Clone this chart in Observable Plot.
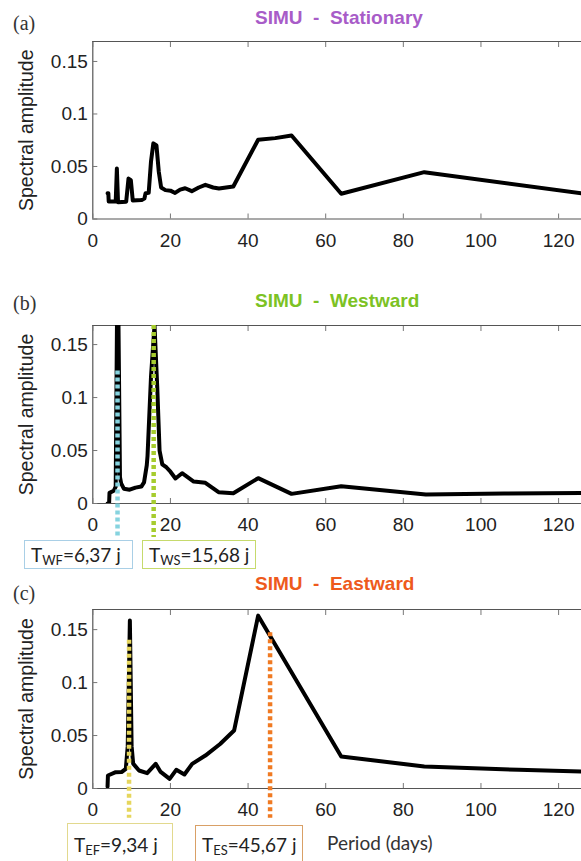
<!DOCTYPE html>
<html>
<head>
<meta charset="utf-8">
<script src="https://cdn.jsdelivr.net/npm/d3@7"></script>
<script src="https://cdn.jsdelivr.net/npm/@observablehq/plot@0.6"></script>
<style>
  body { margin: 0; background: #fff; }
  #root { position: relative; width: 581px; height: 861px; overflow: hidden; font-family: "Liberation Sans", Arial, sans-serif; }
  .abs { position: absolute; }
  .title { font-weight: bold; font-size: 19px; line-height: 1; white-space: pre; }
  .plabel { font-family: "Liberation Serif", serif; font-size: 20px; line-height: 1; color: #333; }
  .box { box-sizing: border-box; border: 1.5px solid; background: #fff; font-family: Lato, sans-serif; font-size: 19px; color: #222; padding-left: 6px; white-space: pre; }
  .box span.t { position: absolute; left: 6px; line-height: 1; }
  .box sub { font-size: 0.68em; position: relative; top: 0.25em; vertical-align: baseline; line-height: 0; }
  .xlab { font-family: Lato, sans-serif; font-size: 19px; color: #333; line-height: 1; white-space: pre; }
</style>
</head>
<body>
<div id="root"></div>
<script>
// ---------- data ----------
const xTicks = [0, 20, 40, 60, 80, 100, 120];
const yTicks = [0, 0.05, 0.1, 0.15];
const yTickLabels = ["0", "0.05", "0.1", "0.15"];

const titles = ["SIMU  -  Stationary", "SIMU  -  Westward", "SIMU  -  Eastward"];
const titleColors = ["#a85cc8", "#7cc224", "#ee5a1c"];
const panelLabels = ["(a)", "(b)", "(c)"];
const yLabel = "Spectral amplitude";
const xLabel = "Period (days)";

// (a) Stationary
const periodA = [3.8, 4.0, 4.1, 5.9, 6.2, 6.5, 8.6, 9.2, 9.8, 10.3, 12.5, 13.3, 13.6, 14.4, 15.0, 15.6, 16.4, 17.0, 17.6, 18.7, 20.0, 21.2, 22.5, 23.8, 25.5, 27.3, 29.0, 31.0, 32.5, 36.2, 42.6, 47.0, 51.2, 64.0, 85.4, 125.9];
const ampA    = [0.0246, 0.0246, 0.0167, 0.0167, 0.048, 0.016, 0.0165, 0.0385, 0.037, 0.0175, 0.018, 0.0195, 0.0246, 0.025, 0.055, 0.072, 0.070, 0.045, 0.030, 0.0275, 0.027, 0.0248, 0.028, 0.0293, 0.0265, 0.030, 0.0325, 0.030, 0.029, 0.031, 0.0754, 0.077, 0.0795, 0.024, 0.0446, 0.0245];

// (b) Westward
const periodB = [3.8, 4.2, 4.3, 5.4, 5.9, 6.4, 7.0, 7.3, 8.0, 9.5, 11.0, 12.5, 13.2, 13.9, 14.1, 15.0, 15.9, 16.6, 17.2, 17.9, 19.0, 20.0, 21.3, 23.0, 26.0, 29.0, 32.4, 36.2, 42.6, 51.2, 64.0, 85.8, 106.0, 125.9];
const ampB    = [0.0, 0.0, 0.010, 0.012, 0.016, 0.25, 0.025, 0.019, 0.014, 0.013, 0.015, 0.016, 0.020, 0.036, 0.045, 0.120, 0.168, 0.110, 0.050, 0.037, 0.034, 0.030, 0.0236, 0.0286, 0.0207, 0.0195, 0.0107, 0.0097, 0.0239, 0.0091, 0.0163, 0.0085, 0.0095, 0.0100];

// (c) Eastward
const periodC = [3.8, 3.9, 5.9, 7.4, 8.5, 9.0, 9.55, 10.0, 10.4, 11.9, 14.0, 16.2, 17.4, 19.8, 21.5, 23.6, 25.6, 29.0, 32.8, 36.4, 42.6, 64.0, 85.4, 109.7, 125.9];
const ampC    = [0.002, 0.0123, 0.0154, 0.0155, 0.0186, 0.040, 0.1585, 0.040, 0.0235, 0.017, 0.0145, 0.0233, 0.016, 0.0091, 0.0176, 0.0132, 0.0233, 0.0311, 0.042, 0.0547, 0.1632, 0.0302, 0.0208, 0.0176, 0.016];

// dominant periods (dotted markers)
const markerPeriodsB = [6.37, 15.68];
const markerTopsB    = [0.125, 0.168];
const markerColorsB  = ["#86d3df", "#a6cc2e"];
const markerPeriodsC = [9.34, 45.67];
const markerTopsC    = [0.14, 0.147];
const markerColorsC  = ["#e6d65c", "#f07a22"];

// ---------- drawing ----------
const root = document.getElementById("root");

function panel({periods, amps, yMax, height, marginTop, marginBottom, markers, markerBottom}) {
  const data = periods.map((p, i) => ({p, a: amps[i]}));
  const mk = markers ? markers.periods.map((p, i) => ({period: p, top: markers.tops[i], bottom: markerBottom, color: markers.colors[i]})) : [];
  return Plot.plot({
    width: 581,
    height,
    marginLeft: 92.3,
    marginRight: 0,
    marginTop,
    marginBottom,
    x: {domain: [0, 125.9]},
    y: {domain: [0, yMax]},
    style: {fontFamily: "'Liberation Sans', Arial, sans-serif", fontSize: "19px", color: "#222", background: "transparent", overflow: "visible"},
    marks: [
      Plot.ruleY([0, yMax], {stroke: "#555", strokeWidth: 1.2}),
      Plot.ruleX([0], {stroke: "#555", strokeWidth: 1.2}),
      Plot.axisX(xTicks, {anchor: "bottom", tickSize: -5, tickPadding: 19, label: null, stroke: "#777", fill: "#222"}),
      Plot.axisX(xTicks, {anchor: "top", tickSize: -5, tickFormat: () => "", label: null, stroke: "#777"}),
      Plot.axisY(yTicks, {anchor: "left", tickSize: -5, tickPadding: 10, label: null, stroke: "#777", fill: "#222",
        tickFormat: d => yTickLabels[yTicks.indexOf(d)]}),
      Plot.line(data, {x: "p", y: "a", stroke: "#000", strokeWidth: 4, clip: true}),
      Plot.ruleX(mk, {x: "period", y1: "top", y2: "bottom", stroke: "color", strokeWidth: 4.5, strokeDasharray: "4,3"}),
      Plot.text([yLabel], {text: d => d, frameAnchor: "left", textAnchor: "middle", dx: -66, rotate: -90, fontSize: 19.5, fill: "#222"})
    ]
  });
}

function place(el, top) {
  el.style.position = "absolute";
  el.style.left = "0px";
  el.style.top = top + "px";
  root.appendChild(el);
}

place(panel({periods: periodA, amps: ampA, yMax: 0.169, height: 262, marginTop: 41, marginBottom: 43.5}), 0);
place(panel({periods: periodB, amps: ampB, yMax: 0.168, height: 262, marginTop: 45, marginBottom: 39,
  markers: {periods: markerPeriodsB, tops: markerTopsB, colors: markerColorsB}, markerBottom: -0.032}), 280);
place(panel({periods: periodC, amps: ampC, yMax: 0.169, height: 301, marginTop: 49, marginBottom: 73,
  markers: {periods: markerPeriodsC, tops: markerTopsC, colors: markerColorsC}, markerBottom: -0.028}), 560);

function html(cls, text, style) {
  const d = document.createElement("div");
  d.className = "abs " + cls;
  d.innerHTML = text;
  Object.assign(d.style, style);
  root.appendChild(d);
  return d;
}

// titles and panel labels
const titleTops = [7.7, 290.7, 573.7];
titles.forEach((t, i) => html("title", t, {left: "255px", top: titleTops[i] + "px", color: titleColors[i]}));
const labelTops = [13, 293, 583];
panelLabels.forEach((t, i) => html("plabel", t, {left: "13px", top: labelTops[i] + "px"}));

// annotation boxes
const boxes = [
  {text: "T<sub>WF</sub>=6,37 j",  left: 24,  top: 540, width: 109, height: 29, color: "#a9cfe6", textTop: 4},
  {text: "T<sub>WS</sub>=15,68 j", left: 142, top: 540, width: 114, height: 29, color: "#c6da6c", textTop: 4},
  {text: "T<sub>EF</sub>=9,34 j",  left: 67,  top: 823, width: 106, height: 40, color: "#e2d98e", textTop: 11},
  {text: "T<sub>ES</sub>=45,67 j", left: 195, top: 825, width: 108, height: 40, color: "#d9a066", textTop: 9}
];
boxes.forEach(b => html("box", `<span class="t" style="top:${b.textTop}px">${b.text}</span>`, {
  left: b.left + "px", top: b.top + "px", width: b.width + "px", height: b.height + "px", borderColor: b.color
}));
html("xlab", xLabel, {left: "327px", top: "833px"});
</script>
</body>
</html>
